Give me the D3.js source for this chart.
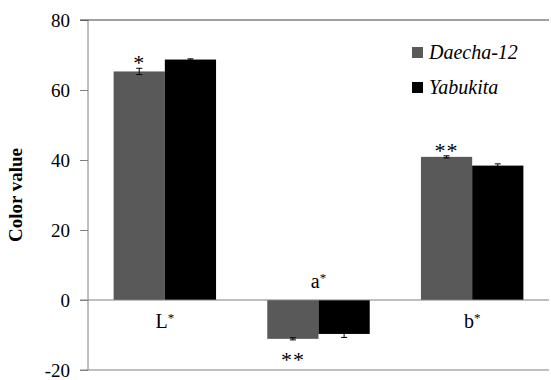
<!DOCTYPE html>
<html>
<head>
<meta charset="utf-8">
<script src="https://cdn.jsdelivr.net/npm/d3@7"></script>
<style>
  body { margin: 0; background: #fff; }
</style>
</head>
<body>
<div class="chart"></div>
<script>
// Data.
const categories = ["L", "a", "b"];
const seriesNames = ["Daecha-12", "Yabukita"];
const seriesColors = ["#595959", "#000000"];
const daechaValues = [65.3, -11.1, 40.9];
const daechaErrors = [0.9, 0.3, 0.3];
const yabukitaValues = [68.7, -9.7, 38.4];
const yabukitaErrors = [0.2, 1.0, 0.5];
const daechaMarks = ["*", "**", "**"];
const yTicks = [-20, 0, 20, 40, 60, 80];

const series = [
  { name: seriesNames[0], color: seriesColors[0], values: daechaValues, errors: daechaErrors, marks: daechaMarks },
  { name: seriesNames[1], color: seriesColors[1], values: yabukitaValues, errors: yabukitaErrors, marks: ["", "", ""] },
];

const FONT = "Liberation Serif, Times New Roman, serif";

// Margin convention.
const margin = { top: 20, right: 2, bottom: 10, left: 88 };
const width = 551 - margin.left - margin.right;
const height = 380 - margin.top - margin.bottom;

const svg = d3
  .select(".chart")
  .append("svg")
  .attr("width", 551)
  .attr("height", 380)
  .attr("font-family", FONT)
  .append("g")
  .attr("transform", `translate(${margin.left}, ${margin.top})`);

// Scales.
const xScale = d3.scaleBand().domain(categories).range([0, width]).paddingInner(0).paddingOuter(0);
const xSub = d3.scaleBand().domain(seriesNames).range([0, xScale.bandwidth()]).paddingInner(0).paddingOuter(0.5);
const yScale = d3.scaleLinear().domain([-20, 80]).range([height, 0]);

// Y axis.
const yAxis = d3.axisLeft(yScale).tickValues(yTicks).tickSize(8).tickPadding(10).tickFormat((d) => String(d));
const yAxisDraw = svg.append("g").attr("class", "y axis").call(yAxis);
yAxisDraw.attr("font-family", FONT).attr("font-size", 19);
yAxisDraw.select(".domain").attr("stroke", "#808080").attr("d", `M0,${yScale(80)}V${yScale(-20)}`);
yAxisDraw.selectAll(".tick line").attr("stroke", "#808080");
yAxisDraw.selectAll("text").attr("fill", "#000").attr("dy", "0.34em");

// Frame lines top and bottom.
svg.append("line").attr("x1", -8).attr("x2", width).attr("y1", yScale(80)).attr("y2", yScale(80)).attr("stroke", "#404040");
svg.append("line").attr("x1", -8).attr("x2", width).attr("y1", yScale(-20)).attr("y2", yScale(-20)).attr("stroke", "#808080");

// Bars.
series.forEach((s) => {
  const g = svg.append("g").attr("class", "bars");
  g.selectAll("rect")
    .data(categories)
    .enter()
    .append("rect")
    .attr("x", (d) => xScale(d) + xSub(s.name))
    .attr("width", xSub.bandwidth())
    .attr("y", (d, i) => yScale(Math.max(0, s.values[i])))
    .attr("height", (d, i) => Math.abs(yScale(s.values[i]) - yScale(0)))
    .attr("fill", s.color);

  // Error bars.
  const eb = svg.append("g").attr("class", "errors");
  categories.forEach((c, i) => {
    const cx = xScale(c) + xSub(s.name) + xSub.bandwidth() / 2;
    const y1 = yScale(s.values[i] - s.errors[i]);
    const y2 = yScale(s.values[i] + s.errors[i]);
    eb.append("line").attr("x1", cx).attr("x2", cx).attr("y1", y1).attr("y2", y2).attr("stroke", "#000");
    [y1, y2].forEach((y) =>
      eb.append("line").attr("x1", cx - 3).attr("x2", cx + 3).attr("y1", y).attr("y2", y).attr("stroke", "#000")
    );
    // Significance marks.
    if (s.marks[i]) {
      const v = s.values[i];
      const yy = v >= 0 ? yScale(v + s.errors[i]) + 2 : yScale(v - s.errors[i]) + 27;
      svg.append("text")
        .attr("x", cx)
        .attr("y", yy)
        .attr("text-anchor", "middle")
        .attr("font-size", 22)
        .attr("letter-spacing", 1)
        .text(s.marks[i]);
    }
  });
});

// Zero line.
svg.append("line").attr("x1", -8).attr("x2", width).attr("y1", yScale(0)).attr("y2", yScale(0)).attr("stroke", "#808080");

// Category labels.
const catLabels = svg.append("g").attr("class", "cat-labels");
categories.forEach((c, i) => {
  const neg = daechaValues[i] < 0;
  const t = catLabels.append("text")
    .attr("x", xScale(c) + xScale.bandwidth() / 2)
    .attr("y", neg ? yScale(0) - 12 : yScale(0) + 28)
    .attr("text-anchor", "middle")
    .attr("font-size", 20);
  t.append("tspan").text(c);
  t.append("tspan").attr("dy", "-0.45em").attr("font-size", 13).text("*");
});

// Y axis title.
svg.append("text")
  .attr("transform", `translate(${-66}, ${yScale(30)}) rotate(-90)`)
  .attr("text-anchor", "middle")
  .attr("font-size", 19)
  .attr("font-weight", "bold")
  .text("Color value");

// Legend.
const legend = svg.append("g").attr("transform", `translate(${412 - margin.left}, ${47 - margin.top})`);
series.forEach((s, i) => {
  const row = legend.append("g").attr("transform", `translate(0, ${i * 35})`);
  row.append("rect").attr("width", 11).attr("height", 11).attr("fill", s.color);
  row.append("text")
    .attr("x", 17)
    .attr("y", 12)
    .attr("font-size", 20)
    .attr("font-style", "italic")
    .text(s.name);
});

// Serif everywhere.
d3.selectAll("svg text").attr("font-family", FONT);
</script>
</body>
</html>
